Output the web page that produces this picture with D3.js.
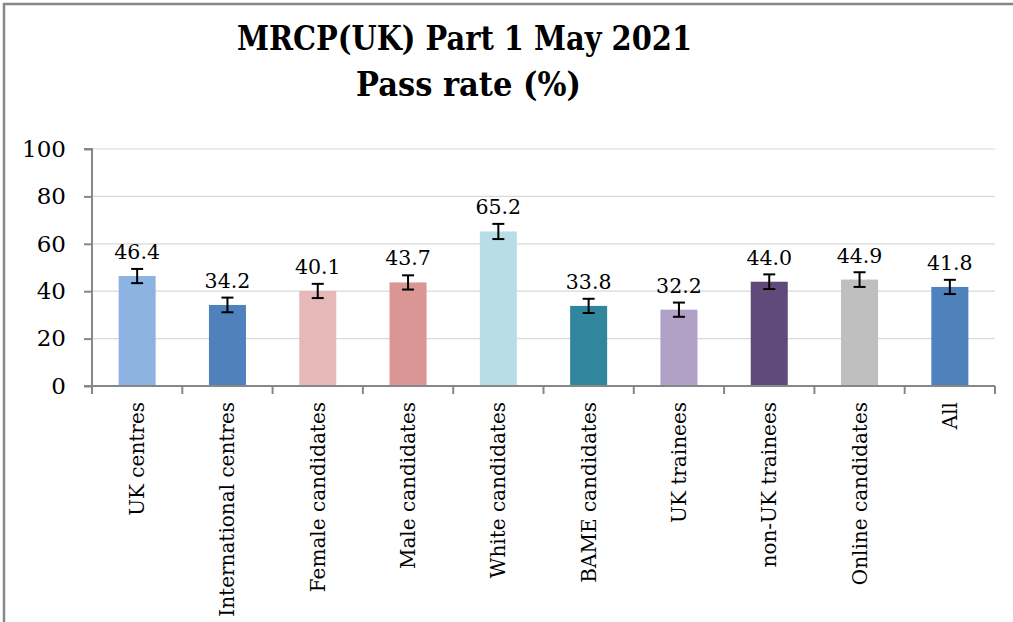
<!DOCTYPE html>
<html><head><meta charset="utf-8">
<script src="https://cdn.jsdelivr.net/npm/d3@7"></script>
<style>html,body{margin:0;padding:0;background:#fff;overflow:hidden;}svg{display:block;}</style>
</head><body>
<svg id="chart" width="1013" height="622"></svg>
<script>
const categories = ["UK centres","International centres","Female candidates","Male candidates","White candidates","BAME candidates","UK trainees","non-UK trainees","Online candidates","All"];
const values = [46.4,34.2,40.1,43.7,65.2,33.8,32.2,44.0,44.9,41.8];
const errors = [3.0,3.1,3.0,3.0,3.2,3.0,3.0,3.1,3.1,3.0];
const colors = ["#8DB3E2","#4F81BD","#E6B9B8","#D99694","#B7DEE8","#31859C","#B2A1C7","#604A7B","#BFBFBF","#4F81BD"];
const yTicks = [0,20,40,60,80,100];
const titleLines = ["MRCP(UK) Part 1 May 2021","Pass rate (%)"];

const svg = d3.select("#chart");
const W = 1013, H = 622;
const m = {left:92, right:1013-995, top:149, bottom:622-386};

svg.append("rect").attr("x",0).attr("y",0).attr("width",W).attr("height",H).attr("fill","#fff");

const x = d3.scaleBand().domain(categories).range([m.left, W-m.right]).paddingInner(0.59).paddingOuter(0.295);
const y = d3.scaleLinear().domain([0,100]).range([H-m.bottom, m.top]);

// gridlines
svg.append("g").selectAll("line").data(yTicks.filter(d=>d>0)).join("line")
  .attr("x1",m.left).attr("x2",W-m.right).attr("y1",d=>y(d)).attr("y2",d=>y(d))
  .attr("stroke","#d9d9d9").attr("stroke-width",1.2);

// bars
svg.append("g").selectAll("rect").data(values).join("rect")
  .attr("x",(d,i)=>x(categories[i])).attr("width",x.bandwidth())
  .attr("y",d=>y(d)).attr("height",d=>y(0)-y(d))
  .attr("fill",(d,i)=>colors[i]);

// error bars
const eb = svg.append("g").attr("stroke","#000").attr("stroke-width",2);
values.forEach((v,i)=>{
  const cx = x(categories[i]) + x.bandwidth()/2;
  const hi = y(v+errors[i]), lo = y(v-errors[i]);
  eb.append("line").attr("x1",cx).attr("x2",cx).attr("y1",hi).attr("y2",lo);
  eb.append("line").attr("x1",cx-6).attr("x2",cx+6).attr("y1",hi).attr("y2",hi);
  eb.append("line").attr("x1",cx-6).attr("x2",cx+6).attr("y1",lo).attr("y2",lo);
});

// value labels
svg.append("g").selectAll("text").data(values).join("text")
  .attr("x",(d,i)=>x(categories[i]) + x.bandwidth()/2)
  .attr("y",d=>y(d)-17)
  .attr("text-anchor","middle")
  .attr("font-family","'DejaVu Serif', serif").attr("font-size",20.5).attr("fill","#000")
  .text(d=>d.toFixed(1));

// y axis
const yAxis = d3.axisLeft(y).tickValues(yTicks).tickSize(8).tickPadding(18).tickFormat(d3.format("d"));
const gy = svg.append("g").attr("transform",`translate(${m.left},0)`).call(yAxis);
gy.select(".domain").attr("stroke","#878787").attr("stroke-width",2).attr("d",`M-8,${y(100)}H0V${y(0)}`);
gy.selectAll(".tick line").attr("stroke","#878787").attr("stroke-width",2);
gy.selectAll(".tick text").attr("font-family","'DejaVu Serif', serif").attr("font-size",23).attr("fill","#000");

// x axis
const gx = svg.append("g").attr("transform",`translate(0,${y(0)})`);
gx.append("line").attr("x1",m.left-8).attr("x2",W-m.right).attr("y1",0).attr("y2",0)
  .attr("stroke","#878787").attr("stroke-width",2);
const step = x.step();
const bounds = d3.range(categories.length+1).map(i=>m.left + i*step);
gx.selectAll("line.tk").data(bounds).join("line").attr("class","tk")
  .attr("x1",d=>d).attr("x2",d=>d).attr("y1",0).attr("y2",8)
  .attr("stroke","#878787").attr("stroke-width",2);
gx.selectAll("text").data(categories).join("text")
  .attr("transform",d=>`translate(${x(d)+x.bandwidth()/2},16) rotate(-90)`)
  .attr("text-anchor","end").attr("dy","0.35em")
  .attr("font-family","'DejaVu Serif', serif").attr("font-size",20).attr("fill","#000")
  .text(d=>d);

// title
const tt = svg.append("g").attr("font-family","'DejaVu Serif', serif").attr("font-weight","bold").attr("font-size",33).attr("fill","#000");
tt.append("text").attr("x",464.5).attr("y",50).attr("text-anchor","middle")
  .attr("textLength",455).attr("lengthAdjust","spacingAndGlyphs").text(titleLines[0]);
tt.append("text").attr("x",468.5).attr("y",96).attr("text-anchor","middle")
  .attr("textLength",225).attr("lengthAdjust","spacingAndGlyphs").text(titleLines[1]);

// outer frame (only top and left edges are visible in the reference)
svg.append("path").attr("d",`M4,${H+10}V4H${W+10}`).attr("fill","none")
  .attr("stroke","#878787").attr("stroke-width",2.5);
</script>
</body></html>
